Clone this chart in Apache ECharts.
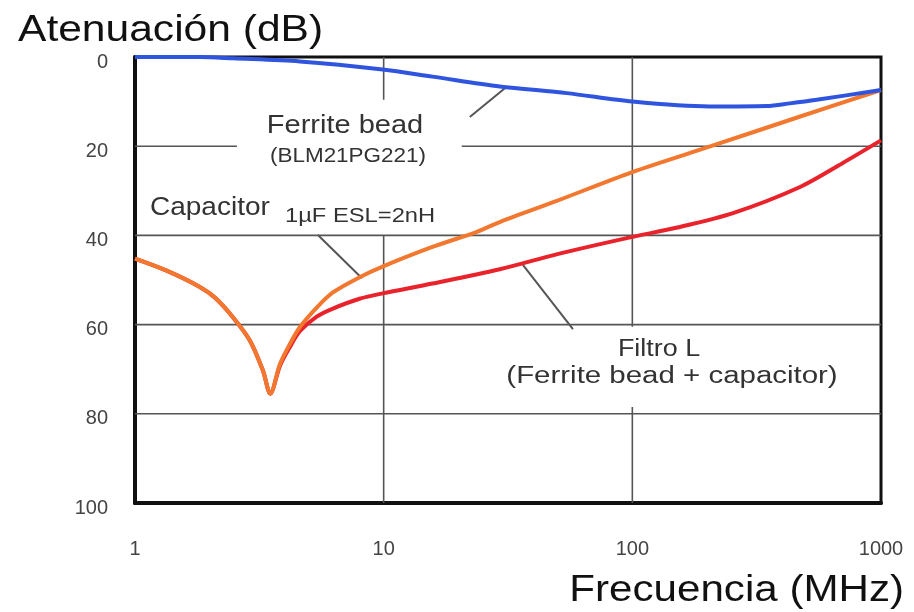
<!DOCTYPE html>
<html>
<head>
<meta charset="utf-8">
<script src="https://cdn.jsdelivr.net/npm/echarts@6/dist/echarts.min.js"></script>
<style>
  html, body { margin: 0; padding: 0; background: #fff; }
  #chart { width: 914px; height: 612px; }
</style>
</head>
<body>
<div id="chart"></div>
<script>
// Attenuation curves (dB) versus frequency (MHz)
const freqBead = [1, 1.83, 2.48, 4.6, 9.9, 15.7, 29.3, 54.5, 100, 204, 347, 430, 551, 1000];
const beadDb   = [0, 0, 0.3, 1.0, 2.8, 4.4, 6.6, 8.1, 10.0, 11.1, 11.0, 10.4, 9.6, 7.4];

const freqCap = [1, 1.34, 1.83, 2.1, 2.48, 2.9, 3.27, 3.5, 3.83, 4.2, 4.6, 5.38, 6.25, 8.0, 9.9, 15.7, 23.7, 29.3, 50, 100, 207, 470, 1000];
const capDb   = [45.2, 47.9, 51.6, 54, 58.4, 63.6, 70.3, 75.5, 68.8, 64.3, 60.6, 56.2, 52.8, 49.4, 47.0, 42.6, 39.2, 37.0, 32.2, 25.8, 20.0, 13.4, 7.4];

const freqFilter = [1, 1.34, 1.83, 2.1, 2.48, 2.9, 3.27, 3.5, 3.83, 4.2, 4.6, 5.38, 6.25, 8.0, 9.9, 15.7, 29.3, 50, 97, 150, 254, 470, 700, 1000];
const filterDb   = [45.2, 47.9, 51.6, 54, 58.4, 63.6, 70.3, 75.5, 69.2, 65, 61.5, 58.2, 56.4, 54.2, 53, 50.8, 47.6, 44.2, 40.5, 38.3, 35, 29.2, 23.8, 18.7];

const xTickLabels = ['1', '10', '100', '1000'];
const yTickLabels = ['0', '20', '40', '60', '80', '100'];

const FONT = "'Liberation Sans', Arial, Helvetica, sans-serif";
const pairs = (xs, ys) => xs.map((x, i) => [x, ys[i]]);

// Grid lines, broken where the annotation text sits (data space)
const gridSegments = [
  [[1, 20], [2.57, 20]], [[20.6, 20], [1000, 20]],
  [[1, 40], [1000, 40]],
  [[1, 60], [1000, 60]],
  [[1, 80], [1000, 80]],
  [[10, 0], [10, 9.6]], [[10, 40], [10, 100]],
  [[100, 0], [100, 60.5]], [[100, 78.5], [100, 100]]
];

// Leader lines from the labels to their curves (data space)
const leaderSegments = [
  [[30.8, 6.95], [22.2, 13.45]],
  [[5.44, 39.9], [8.18, 49.6]],
  [[36.3, 46.6], [57.7, 61]]
];

function segSeries(segs, color, width, z) {
  return segs.map(s => ({
    type: 'line', data: s, symbol: 'none', silent: true, z: z,
    lineStyle: { color: color, width: width }, animation: false
  }));
}

const chart = echarts.init(document.getElementById('chart'), null, { renderer: 'canvas' });

function txt(text, x, y, size, align, sx, color) {
  return {
    type: 'text', x: x, y: y, scaleX: sx, z: 20, silent: true,
    style: { text: text, font: size + 'px ' + FONT, fill: color || '#333', textAlign: align, textVerticalAlign: 'middle' }
  };
}

chart.setOption({
  animation: false,
  backgroundColor: '#fff',
  grid: { left: 135, right: 33, top: 57, bottom: 109, show: true, borderColor: '#111', borderWidth: 3, backgroundColor: 'transparent' },
  xAxis: {
    type: 'log', logBase: 10, min: 1, max: 1000,
    axisLine: { show: true, onZero: false, lineStyle: { color: '#111', width: 4 } },
    axisTick: { show: false },
    splitLine: { show: false },
    minorSplitLine: { show: false },
    axisLabel: {
      fontSize: 20, fontFamily: FONT, color: '#444', margin: 36,
      formatter: v => { const i = Math.round(Math.log10(v)); return xTickLabels[i] !== undefined ? xTickLabels[i] : ''; }
    }
  },
  yAxis: {
    type: 'value', inverse: true, min: 0, max: 100, interval: 20,
    axisLine: { show: true, onZero: false, lineStyle: { color: '#111', width: 4 } },
    axisTick: { show: false },
    splitLine: { show: false },
    axisLabel: {
      fontSize: 20, fontFamily: FONT, color: '#444', margin: 27,
      verticalAlign: 'top', lineHeight: 10,
      formatter: v => yTickLabels[Math.round(v / 20)]
    }
  },
  series: [
    ...segSeries(gridSegments, '#555', 1.6, 1),
    ...segSeries(leaderSegments, '#555', 2, 2),
    {
      name: 'Filtro L', type: 'line', data: pairs(freqFilter, filterDb), symbol: 'none', smooth: 0.3, z: 4,
      lineStyle: { color: '#e8232b', width: 4 }
    },
    {
      name: 'Capacitor', type: 'line', data: pairs(freqCap, capDb), symbol: 'none', smooth: 0.3, z: 5,
      lineStyle: { color: '#f2772f', width: 4 }
    },
    {
      name: 'Ferrite bead', type: 'line', data: pairs(freqBead, beadDb), symbol: 'none', smooth: 0.3, z: 6,
      lineStyle: { color: '#2f55df', width: 4 }
    }
  ],
  graphic: [
    txt('Atenuación (dB)', 18, 31, 37, 'left', 1.15, '#111'),
    txt('Frecuencia (MHz)', 904, 591, 36, 'right', 1.17, '#111'),
    txt('Ferrite bead', 345, 126, 25, 'center', 1.16),
    txt('(BLM21PG221)', 348, 156, 21, 'center', 1.07),
    txt('Capacitor', 150, 208, 25, 'left', 1.12),
    txt('1µF ESL=2nH', 285, 216, 21, 'left', 1.13),
    txt('Filtro L', 659, 350, 23, 'center', 1.17),
    txt('(Ferrite bead + capacitor)', 672, 377, 23, 'center', 1.28)
  ]
});
</script>
</body>
</html>
